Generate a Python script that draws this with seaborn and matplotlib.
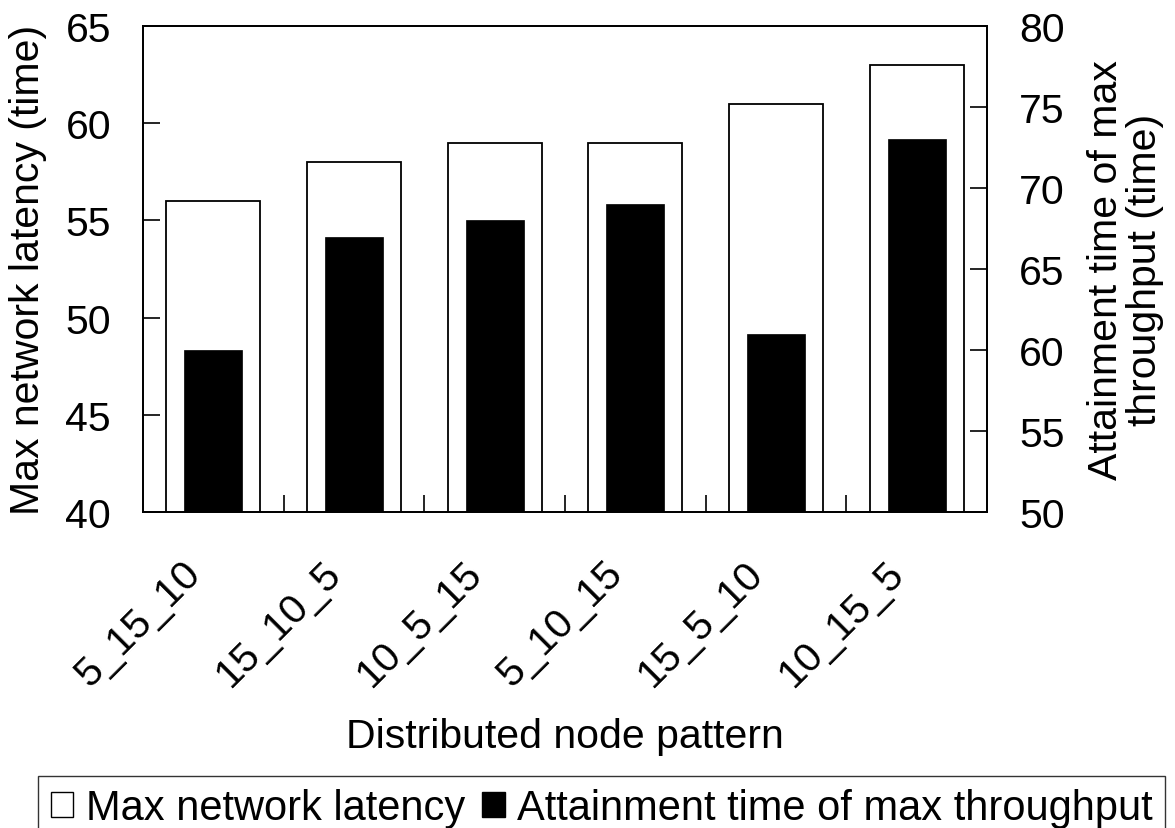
import matplotlib
matplotlib.use("Agg")
import matplotlib.pyplot as plt
import matplotlib.transforms as mtransforms
from matplotlib.patches import Patch
import numpy as np
import pandas as pd
import seaborn as sns

# ---------------------------------------------------------------------------
# data
# ---------------------------------------------------------------------------
patterns = ["5_15_10", "15_10_5", "10_5_15", "5_10_15", "15_5_10", "10_15_5"]
max_latency = [56, 58, 59, 59, 61, 63]          # left axis
attain_time = [60, 67, 68, 69, 61, 73]          # right axis

lat_label = "Max network latency"
att_label = "Attainment time of max throughput"

df = pd.DataFrame({"pattern": patterns, "latency": max_latency, "attain": attain_time})

sns.set_style("ticks")
plt.rcParams["font.family"] = ["Liberation Sans", "DejaVu Sans"]
plt.rcParams.update({"text.color": "black", "axes.labelcolor": "black",
                     "xtick.color": "black", "ytick.color": "black"})
FS = 29.5

fig = plt.figure(figsize=(11.75, 8.29), dpi=100)
ax = fig.add_axes([143 / 1175, 1 - 513 / 829, (987 - 143) / 1175, (513 - 27) / 829])
ax2 = ax.twinx()

# white bars (left axis)
sns.barplot(data=df, x="pattern", y="latency", ax=ax, color="white",
            edgecolor="black", linewidth=1.3, width=0.67, saturation=1)
# black bars (right axis)
sns.barplot(data=df, x="pattern", y="attain", ax=ax2, color="black",
            edgecolor="black", linewidth=0.5, width=0.41, saturation=1)

ax.set_ylim(40, 65)
ax.set_yticks(np.arange(40, 66, 5))
ax2.set_ylim(50, 80)
ax2.set_yticks(np.arange(50, 81, 5))
ax.set_xlim(-0.5, len(patterns) - 0.5)

# category labels at centres, tick marks at the boundaries
ax.set_xticks(range(len(patterns)))
ax.set_xticklabels(patterns, rotation=45, ha="right", rotation_mode="anchor", fontsize=FS)
ax.tick_params(axis="x", which="major", length=0, pad=30)
ax.set_xticks(np.arange(0.5, len(patterns) - 0.5, 1), minor=True)
ax.tick_params(axis="x", which="minor", direction="in", length=12, width=1.2, color="black")
shift = mtransforms.ScaledTranslation(-32 / 100, 0, fig.dpi_scale_trans)
for lab in ax.get_xticklabels():
    lab.set_transform(lab.get_transform() + shift)

ax.tick_params(axis="y", direction="in", length=12, width=1.2, labelsize=FS, pad=23)
ax2.tick_params(axis="y", direction="in", length=12, width=1.2, labelsize=FS, pad=23)

ax.set_xlabel("Distributed node pattern", fontsize=FS, labelpad=17)
ax.set_ylabel("Max network latency (time)", fontsize=FS, labelpad=13)
ax2.set_ylabel("Attainment time of max\nthroughput (time)", fontsize=FS,
               rotation=90, labelpad=16, linespacing=1.05)

for a in (ax, ax2):
    for s in a.spines.values():
        s.set_visible(True)
        s.set_color("black")
        s.set_linewidth(1.3)

handles = [Patch(facecolor="white", edgecolor="black", linewidth=1.0, label=lat_label),
           Patch(facecolor="black", edgecolor="black", label=att_label)]
leg = fig.legend(handles=handles, loc="upper left", bbox_to_anchor=(38 / 1175, 1 - 777 / 829),
                 ncol=2, fontsize=30, frameon=True, fancybox=False, edgecolor="black",
                 handlelength=0.55, handleheight=0.55, handletextpad=0.3, columnspacing=0.4,
                 borderpad=0.3, borderaxespad=0)
leg.get_frame().set_linewidth(1.0)

fig.savefig("out.png", dpi=100)
